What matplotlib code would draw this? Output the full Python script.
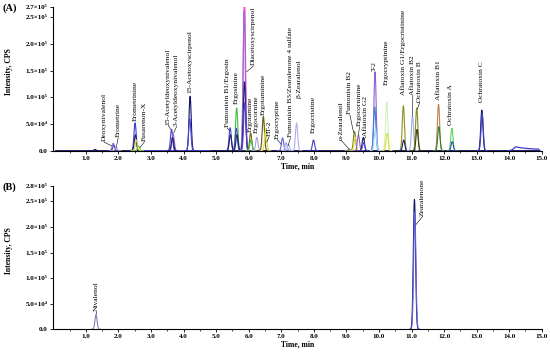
import matplotlib.pyplot as plt
import numpy as np

plt.rcParams['font.family'] = ['Liberation Serif', 'DejaVu Serif']

# ———————— DATA ————————
# panel A: one row per trace apex (retention time, height, colour)
a_times = [1.28, 1.84, 1.86, 1.93, 2.51, 2.52, 2.55, 2.62,
           3.63, 3.68, 3.66, 4.20, 4.19,
           5.43, 5.44, 5.63, 5.62, 5.64,
           5.87, 5.86, 5.87, 5.88,
           6.06, 6.07, 6.25, 6.45, 6.52,
           7.04, 7.15, 7.22, 7.47, 7.99,
           9.10, 9.25, 9.27, 9.37, 9.52, 9.53,
           9.88, 9.87, 9.89, 10.24, 10.25,
           10.75, 10.76, 11.03, 11.16, 11.17,
           11.83, 11.84, 12.24, 12.25, 13.16, 13.17]
a_heights = [2500, 14000, 10000, 6000, 52000, 30000, 20000, 9000,
             40000, 32000, 25000, 102000, 60000,
             43000, 30000, 80000, 42000, 30000,
             285000, 262000, 129000, 90000,
             33000, 20000, 25000, 64000, 40000,
             24000, 15000, 12000, 52000, 20000,
             3000, 36000, 25000, 29000, 25000, 15000,
             148000, 82000, 40000, 92000, 33000,
             84000, 20000, 64000, 80000, 40000,
             87000, 45000, 42000, 17000, 76000, 70000]
a_colors = ['#20206a', '#8a6fd0', '#4a4ac8', '#b0a0e0', '#3c3cd0', '#20206a', '#d8d840', '#80d040',
            '#4848d0', '#9a6ad8', '#20206a', '#10106a', '#4848d0',
            '#4848d0', '#20206a', '#40c040', '#4848d0', '#20206a',
            '#ff40c0', '#9a6ad8', '#20206a', '#4848d0',
            '#6b6b10', '#40c040', '#b0a0e0', '#5a5a00', '#e8d850',
            '#6060e0', '#b0a0e0', '#a0c0f0', '#b0b0f0', '#4040c0',
            '#909090', '#808020', '#e0e040', '#9060d0', '#20206a', '#4848d0',
            '#9060d0', '#4080e0', '#a0e0ff', '#d0f0c0', '#e0e040',
            '#909020', '#20206a', '#a0b0f0', '#8a8a20', '#404010',
            '#c08050', '#308030', '#60d060', '#3050b0', '#101050', '#4040d0']

# late broad hump (panel A)
hump_t = [14.00, 14.10, 14.20, 14.30, 14.50, 14.70, 14.90, 14.95]
hump_i = [0, 2000, 7500, 6000, 4500, 3500, 3000, 0]

# panel B traces
b_times = [1.31, 11.09, 11.10]
b_heights = [28000, 254000, 230000]
b_colors = ['#8080b0', '#101060', '#6060e0']

# peak names: text position (time, bottom intensity) and leader end (None = no leader)
a_names = ['Deoxynivalenol', 'Erometrine', 'Erometrinine', 'Fusarenon-X',
           '15-Acetyldeoxynivalenol', '3-Acetyldeoxynivalenol', '15-Acetoxyscirpenol',
           'Fumonisin B1/Ergosin', 'Ergosinine', 'Diacetoxyscirpenol', 'Ergotamine',
           'Ergocornine', 'Ergotaminine', 'HT-2', 'Ergocryptine',
           'Fumonisin B3/Zearalenone 4 sulfate', 'β-Zearalenol', 'Ergocristine',
           'α-Zearalenol', 'Fumonisin B2', 'Ergocorninine', 'Aflatoxin G2', 'T-2',
           'Ergocryptinine', 'Aflatoxin G1/Ergocristinine', 'Aflatoxin B2',
           'Ochratoxin B', 'Aflatoxin B1', 'Ochratoxin A', 'Ochratoxin C']
a_label_t = [1.55, 1.99, 2.51, 2.80, 3.53, 3.78, 4.18, 5.34, 5.61, 6.14,
             6.04, 6.22, 6.45, 6.62, 6.88, 7.28, 7.55, 7.98, 8.84, 9.11,
             9.40, 9.59, 9.86, 10.21, 10.75, 11.04, 11.25, 11.83, 12.21, 13.16]
a_label_i = [18000, 25000, 56000, 18500, 49000, 46000, 108000, 44000, 87000, 160000,
             36000, 33000, 67000, 27000, 22000, 25000, 98000, 33000, 21000, 68000,
             46000, 27000, 149000, 123000, 104000, 104000, 92000, 95000, 48000, 92000]
a_leader = [(1.79, 9000), (1.93, 6000), None, (2.66, 6000),
            (3.60, 40000), (3.70, 34000), None,
            (5.41, 38000), None, (5.94, 148000), None,
            None, None, (6.55, 16000), (7.00, 12000),
            (7.21, 9000), None, None,
            (9.08, 3000), (9.22, 34000), (9.37, 29000), (9.54, 20000), None,
            None, None, (11.03, 64000), (11.18, 78000), None, None, None]

b_names = ['Nivalenol', 'Zearalenone']
b_label_t = [1.33, 11.34]
b_label_i = [36000, 222000]
b_leader = [(1.31, 29000), (11.14, 205000)]

a_yticks = [0, 5e4, 1e5, 1.5e5, 2e5, 2.5e5, 2.7e5]
a_yticklabels = ['0.0', '5.0×10⁴', '1.0×10⁵', '1.5×10⁵', '2.0×10⁵', '2.5×10⁵', '2.7×10⁵']
b_yticks = [0, 5e4, 1e5, 1.5e5, 2e5, 2.5e5, 2.8e5]
b_yticklabels = ['0.0', '5.0×10⁴', '1.0×10⁵', '1.5×10⁵', '2.0×10⁵', '2.5×10⁵', '2.8×10⁵']
xticks = list(range(1, 16))

SIGMA = 0.034


def draw_peaks(ax, times, heights, colors):
    for c, h, col in zip(times, heights, colors):
        t = np.linspace(c - 4.5 * SIGMA, c + 4.5 * SIGMA, 80)
        ax.plot(t, h * np.exp(-0.5 * ((t - c) / SIGMA) ** 2), color=col, lw=0.8)


def draw_names(ax, names, lt, li, leaders):
    for name, t, i, lead in zip(names, lt, li, leaders):
        ax.text(t, i, name, rotation=90, ha='center', va='bottom',
                fontsize=5.4, clip_on=False)
        if lead is not None:
            ax.plot([t, lead[0]], [i - 1500, lead[1]], color='black', lw=0.4)


def style_axes(ax, yticks, yticklabels, ymax, xlab_y, xpad):
    ax.set_xlim(0, 15)
    ax.set_ylim(0, ymax)
    for s in ['top', 'right']:
        ax.spines[s].set_visible(False)
    for s in ['left', 'bottom']:
        ax.spines[s].set_linewidth(0.8)
    ax.set_xticks(xticks)
    ax.set_xticklabels([f'{x:.1f}' for x in xticks], fontweight='bold', fontsize=5)
    ax.set_xticks(np.arange(0.5, 15, 1.0), minor=True)
    ax.set_yticks(yticks)
    ax.set_yticklabels(yticklabels, fontweight='bold', fontsize=5)
    ax.tick_params(axis='both', which='major', length=2, width=0.6, pad=2)
    ax.tick_params(axis='x', which='major', pad=xpad)
    ax.tick_params(axis='x', which='minor', length=1.2, width=0.5)
    ax.set_xlabel('Time, min', fontweight='bold', fontsize=5.5)
    ax.xaxis.set_label_coords(0.5, xlab_y)
    ax.set_ylabel('Intensity, CPS', fontweight='bold', fontsize=5.5)
    ax.yaxis.set_label_coords(-0.082, 0.55)


fig = plt.figure(figsize=(5.5, 3.53), dpi=100)
ax_a = fig.add_axes([0.097, 0.573, 0.888, 0.4085])
ax_b = fig.add_axes([0.097, 0.067, 0.888, 0.406])

# panel A
base_t = np.linspace(0.05, 14.9, 400)
ax_a.plot(base_t, np.zeros_like(base_t) + 600, color='#20206a', lw=0.7)
ax_a.plot([2.6, 4.8], [1500, 1500], color='#4848d0', lw=0.7)
draw_peaks(ax_a, a_times, a_heights, a_colors)
ax_a.plot(hump_t, hump_i, color='#3c3cd0', lw=0.9)
draw_names(ax_a, a_names, a_label_t, a_label_i, a_leader)
style_axes(ax_a, a_yticks, a_yticklabels, 2.7e5, -0.078, 2)

# panel B
ax_b.plot([0.3, 2.3], [900, 900], color='#a0a0c0', lw=0.7)
ax_b.plot(base_t, np.zeros_like(base_t) + 300, color='#20206a', lw=0.5)
draw_peaks(ax_b, b_times, b_heights, b_colors)
draw_names(ax_b, b_names, b_label_t, b_label_i, b_leader)
style_axes(ax_b, b_yticks, b_yticklabels, 2.8e5, -0.075, 1)

fig.text(0.005, 0.976, '(A)', fontweight='bold', fontsize=7.5, va='center')
fig.text(0.005, 0.471, '(B)', fontweight='bold', fontsize=7.5, va='center')

fig.savefig('out.png', dpi=100, facecolor='white')
